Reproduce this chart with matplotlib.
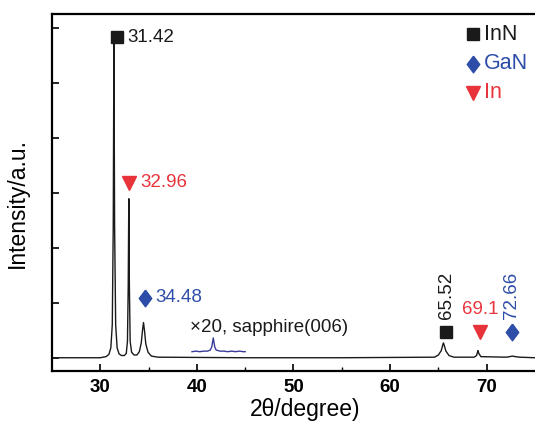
import matplotlib
matplotlib.use("Agg")
import matplotlib.pyplot as plt

plt.rcParams["font.family"] = ["Liberation Sans", "DejaVu Sans"]

# XRD trace: (2theta, intensity) points along the measured pattern
two_theta = [25.0, 30.0, 30.6, 30.9, 31.1, 31.25, 31.35, 31.42, 31.49, 31.6, 31.75,
             31.95, 32.2, 32.5, 32.7, 32.82, 32.9, 32.96, 33.02, 33.1, 33.25, 33.5,
             33.8, 34.05, 34.25, 34.38, 34.48, 34.58, 34.72, 34.95, 35.3, 36.0,
             45.0, 55.0, 64.6, 65.0, 65.3, 65.45, 65.52, 65.6, 65.78, 66.1, 66.6,
             68.7, 68.95, 69.05, 69.1, 69.18, 69.4, 72.0, 72.4, 72.66, 72.95, 73.4,
             75.0]
intensity = [0.0, 0.0, 0.02, 0.06, 0.18, 0.6, 2.4, 5.75, 2.4, 0.6, 0.18,
             0.07, 0.04, 0.04, 0.08, 0.3, 1.3, 2.89, 1.3, 0.3, 0.1, 0.05,
             0.05, 0.11, 0.27, 0.5, 0.64, 0.5, 0.25, 0.1, 0.03, 0.01,
             0.0, 0.0, 0.01, 0.05, 0.13, 0.23, 0.27, 0.23, 0.12, 0.04, 0.01,
             0.01, 0.04, 0.1, 0.13, 0.08, 0.02, 0.01, 0.02, 0.03, 0.02, 0.01,
             0.0]

# sapphire (006) region, scaled x20
sapph_x = [39.5, 39.9, 40.3, 40.7, 41.1, 41.4, 41.55, 41.7, 41.85, 42.0, 42.4,
           42.8, 43.2, 43.6, 44.0, 44.4, 44.8, 45.0]
sapph_y = [0.11, 0.12, 0.11, 0.12, 0.12, 0.14, 0.2, 0.36, 0.2, 0.14, 0.12,
           0.12, 0.11, 0.12, 0.11, 0.12, 0.11, 0.11]

# peak labels
inn_peaks = [31.42, 65.52]
in_peaks = [32.96, 69.1]
gan_peaks = [34.48, 72.66]

BLACK = "#1a1a1a"
RED = "#e8333b"
BLUE = "#2d4da8"
FS = 13.5

fig = plt.figure(figsize=(5.35, 4.22), dpi=100)
ax = fig.add_axes([0.097, 0.121, 0.903, 0.846])

ax.plot(two_theta, intensity, color=BLACK, lw=1.0)
ax.plot(sapph_x, sapph_y, color="#3a3a9a", lw=1.0)

ax.set_xlim(25, 75)
ax.set_ylim(-0.24, 6.25)
ax.set_xticks([30, 40, 50, 60, 70])
ax.set_xticks([35, 45, 55, 65], minor=True)
ax.set_yticks(range(0, 7))
ax.set_yticklabels([])
ax.tick_params(axis="x", direction="in", length=5, width=1.2, labelsize=13.5, pad=6)
ax.tick_params(axis="x", which="minor", direction="in", length=3, width=1.0)
ax.tick_params(axis="y", direction="in", length=5, width=1.2)
for lab in ax.get_xticklabels():
    lab.set_fontweight("bold")
ax.spines["right"].set_visible(False)
for side in ("left", "bottom", "top"):
    ax.spines[side].set_linewidth(1.6)

ax.set_xlabel("2θ/degree)", fontsize=16.5, va="baseline")
ax.xaxis.set_label_coords(0.524, -0.127)
ax.set_ylabel("Intensity/a.u.", fontsize=16.5)
ax.yaxis.set_label_coords(-0.048, 0.47)

# slightly tall diamond for GaN
gan_diamond = [(0, 1), (0.75, 0), (0, -1), (-0.75, 0), (0, 1)]
mk_style = {"s": dict(marker="s", ms=8.5), "v": dict(marker="v", ms=10),
            "d": dict(marker=gan_diamond, ms=12)}


def peak_tag(x, y, kind, color, label):
    ax.plot(x, y, ls="none", color=color, **mk_style[kind])
    ax.annotate(label, (x, y), xytext=(8, 0), textcoords="offset points",
                color=color, fontsize=FS, va="center", ha="left")


# markers + labels at the strong peaks
peak_tag(31.7, 5.83, "s", BLACK, f"{inn_peaks[0]}")
peak_tag(33.0, 3.18, "v", RED, f"{in_peaks[0]}")
peak_tag(34.6, 1.09, "d", BLUE, f"{gan_peaks[0]}")

ax.text(39.3, 0.55, "×20, sapphire(006)", color=BLACK, fontsize=FS, va="center")

# small high-angle peaks: vertical labels
ax.plot(65.8, 0.47, ls="none", color=BLACK, **mk_style["s"])
ax.text(65.8, 0.7, f"{inn_peaks[1]}", color=BLACK, fontsize=FS, rotation=90,
        ha="center", va="bottom")
ax.plot(69.3, 0.47, ls="none", color=RED, **mk_style["v"])
ax.text(69.3, 0.87, f"{in_peaks[1]}", color=RED, fontsize=FS, ha="center", va="center")
ax.plot(72.6, 0.47, ls="none", color=BLUE, **mk_style["d"])
ax.text(72.6, 0.7, f"{gan_peaks[1]}", color=BLUE, fontsize=FS, rotation=90,
        ha="center", va="bottom")

# phase key
key = [("s", BLACK, "InN", 5.88), ("d", BLUE, "GaN", 5.34), ("v", RED, "In", 4.82)]
for kind, col, name, yk in key:
    ax.plot(68.6, yk, ls="none", color=col, **mk_style[kind])
    ax.text(69.7, yk, name, color=col, fontsize=15.5, va="center")

fig.savefig("out.png", dpi=100)
